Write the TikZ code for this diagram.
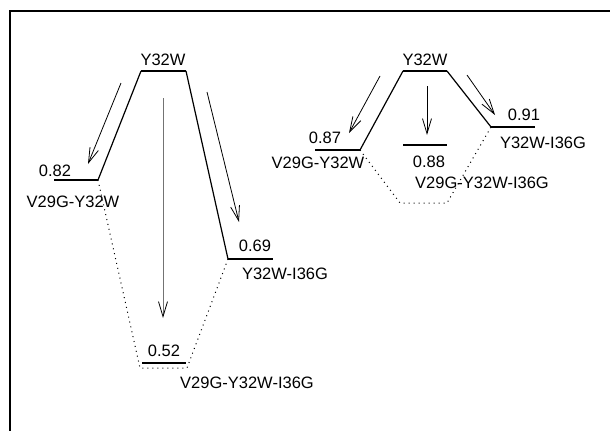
\documentclass[tikz,border=0pt]{standalone}
\usepackage{fontspec}
\setmainfont{Liberation Sans}
\usetikzlibrary{arrows.meta}
\begin{document}
\begin{tikzpicture}[x=1pt,y=-1pt,
  lvl/.style={line width=1.3pt},
  slope/.style={line width=1.2pt},
  arr/.style={line width=0.8pt,-{Straight Barb[length=15pt,width=9pt,line width=0.8pt,color=black]}},
  dots/.style={line width=1pt,dash pattern=on 1pt off 4pt},
  lab/.style={font=\fontsize{16.5}{18}\selectfont,inner sep=0pt,anchor=base},
  frame/.style={line width=1.3pt}]
\useasboundingbox (0,0) rectangle (610,431);
% frame
\coordinate (f1) at (610,11);
\coordinate (f2) at (10,11);
\coordinate (f3) at (10,431);
\draw[frame] (f1) -- (f2) -- (f3);

% ---------- left diagram ----------
\coordinate (a1) at (141,71);  \coordinate (a2) at (186,71);
\coordinate (b1) at (54,180);  \coordinate (b2) at (98,180);
\coordinate (c1) at (228,259); \coordinate (c2) at (273,259);
\coordinate (d1) at (142,363); \coordinate (d2) at (186,363);
\draw[lvl] (b1) -- (b2);
\draw[slope] (b2) -- (a1);
\draw[lvl] (a1) -- (a2);
\draw[slope] (a2) -- (c1);
\draw[lvl] (c1) -- (c2);
\draw[lvl] (d1) -- (d2);
\coordinate (e1) at (140,368); \coordinate (e2) at (187,368);
\draw[dots] (b2) -- (e1) -- (e2) -- (c1);

\node[lab] (ly) at (163,65) {Y32W};
\node[lab] (l082) at (55,176) {0.82};
\node[lab] (lb) at (73,207) {V29G-Y32W};
\node[lab] (l069) at (255,251) {0.69};
\node[lab] (lc) at (285,279) {Y32W-I36G};
\node[lab] (l052) at (164,356) {0.52};
\node[lab] (ld) at (247,388) {V29G-Y32W-I36G};

\coordinate (p1s) at (121,83);  \coordinate (p1e) at (88,164);
\coordinate (p2s) at (207,92);  \coordinate (p2e) at (239,222);
\coordinate (p3s) at (163,98);  \coordinate (p3e) at (163,318);
\draw[arr] (p1s) -- (p1e);
\draw[arr] (p2s) -- (p2e);
\draw[arr,draw=black!55] (p3s) -- (p3e);

% ---------- right diagram ----------
\coordinate (A1) at (403,71);  \coordinate (A2) at (447,71);
\coordinate (B1) at (315,150); \coordinate (B2) at (360,150);
\coordinate (C1) at (491,127); \coordinate (C2) at (535,127);
\coordinate (D1) at (403,145); \coordinate (D2) at (447,145);
\draw[lvl] (B1) -- (B2);
\draw[slope] (B2) -- (A1);
\draw[lvl] (A1) -- (A2);
\draw[slope] (A2) -- (C1);
\draw[lvl] (C1) -- (C2);
\draw[lvl] (D1) -- (D2);
\coordinate (E1) at (400,203); \coordinate (E2) at (447,203);
\draw[dots] (B2) -- (E1) -- (E2) -- (C1);

\node[lab] (Ry) at (425,65) {Y32W};
\node[lab] (R087) at (325,143) {0.87};
\node[lab] (Rb) at (318,168) {V29G-Y32W};
\node[lab] (R088) at (429,167) {0.88};
\node[lab] (Rd) at (482,188) {V29G-Y32W-I36G};
\node[lab] (R091) at (524,120) {0.91};
\node[lab] (Rc) at (543,148) {Y32W-I36G};

\coordinate (q1s) at (380,76);  \coordinate (q1e) at (349,133);
\coordinate (q2s) at (427,86);  \coordinate (q2e) at (427,135);
\coordinate (q3s) at (467,75);  \coordinate (q3e) at (495,115);
\draw[arr] (q1s) -- (q1e);
\draw[arr] (q2s) -- (q2e);
\draw[arr] (q3s) -- (q3e);
\end{tikzpicture}
\end{document}
